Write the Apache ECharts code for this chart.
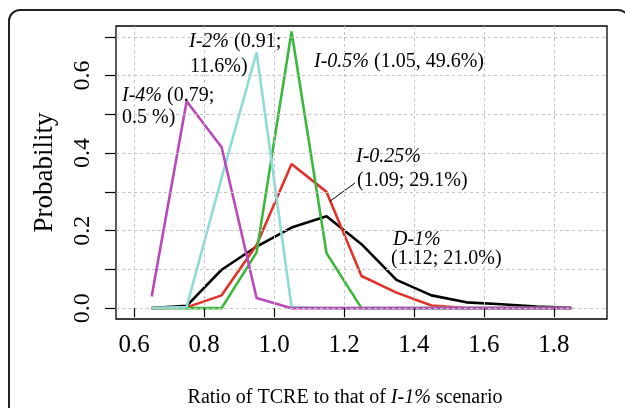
<!DOCTYPE html>
<html>
<head>
<meta charset="utf-8">
<script src="https://cdn.jsdelivr.net/npm/echarts@6/dist/echarts.min.js"></script>
<style>
html,body{margin:0;padding:0;background:#fff;}
#c{width:625px;height:408px;}
</style>
</head>
<body>
<div id="c"></div>
<script>
// ---- data ----
const ratios = [0.65, 0.75, 0.85, 0.95, 1.05, 1.15, 1.25, 1.35, 1.45, 1.55, 1.65, 1.75, 1.85];
const probD1   = [0.000, 0.006, 0.099, 0.159, 0.208, 0.237, 0.165, 0.073, 0.033, 0.015, 0.010, 0.004, 0.001];
const probI025 = [0.000, 0.002, 0.033, 0.163, 0.372, 0.300, 0.083, 0.040, 0.007, 0.000, 0.000, 0.000, 0.000];
const probI05  = [0.000, 0.000, 0.000, 0.144, 0.714, 0.142, 0.000, 0.000, 0.000, 0.000, 0.000, 0.000, 0.000];
const probI2   = [0.000, 0.003, 0.336, 0.660, 0.003, 0.000, 0.000, 0.000, 0.000, 0.000, 0.000, 0.000, 0.000];
const probI4   = [0.030, 0.534, 0.415, 0.026, 0.000, 0.000, 0.000, 0.000, 0.000, 0.000, 0.000, 0.000, 0.000];
const xTickLabels = [0.6, 0.8, 1.0, 1.2, 1.4, 1.6, 1.8];
const xGridValues = [0.6, 0.7, 0.8, 0.9, 1.0, 1.1, 1.2, 1.3, 1.4, 1.5, 1.6, 1.7, 1.8, 1.9];
const yTickValues = [0.0, 0.1, 0.2, 0.3, 0.4, 0.5, 0.6, 0.7];
const yTickLabels = [0.0, 0.2, 0.4, 0.6];
const leaderX = [1.160, 1.2315];
const leaderY = [0.276, 0.323];

const FONT = '"Liberation Serif","Times New Roman",serif';
const pair = (xs, ys) => xs.map((x, i) => [x, ys[i]]);

const chart = echarts.init(document.getElementById('c'), null, {renderer: 'canvas'});

function lineSeries(name, data, color) {
  return {
    name, type: 'line', data: pair(ratios, data), symbol: 'none', z: 2,
    lineStyle: {color, width: 2.6}, itemStyle: {color}, animation: false
  };
}

const rich = {
  i: {fontFamily: FONT, fontSize: 20, fontStyle: 'italic', fill: '#000', color: '#000'},
  n: {fontFamily: FONT, fontSize: 20, fill: '#000', color: '#000'}
};
function txt(x, y, text, align) {
  return {
    type: 'text', x, y, z: 10,
    style: {text, rich, fontFamily: FONT, fontSize: 20, fill: '#000', align: align || 'left', verticalAlign: 'middle'}
  };
}

const gridLine = {show: true, lineStyle: {color: '#c4c4c4', type: [3, 3], width: 1}};

chart.setOption({
  animation: false,
  backgroundColor: '#fff',
  grid: {left: 116, top: 26, right: 18, bottom: 89, show: true, borderColor: '#000', borderWidth: 1.3, backgroundColor: 'transparent'},
  xAxis: {
    type: 'value', min: 0.548, max: 1.952, z: 5,
    axisLine: {show: false},
    axisTick: {show: true, customValues: xTickLabels, length: 9, lineStyle: {color: '#000', width: 1.2}},
    axisLabel: {customValues: xTickLabels, formatter: v => v.toFixed(1), fontFamily: FONT, fontSize: 25, color: '#000', margin: 14},
    splitLine: Object.assign({customValues: xGridValues}, gridLine)
  },
  yAxis: {
    type: 'value', min: -0.028, max: 0.728, z: 5,
    name: 'Probability', nameLocation: 'middle', nameGap: 58, nameRotate: 90,
    nameTextStyle: {fontFamily: FONT, fontSize: 27, color: '#000'},
    axisLine: {show: false},
    axisTick: {show: true, customValues: yTickValues, length: 11, lineStyle: {color: '#000', width: 1.2}},
    axisLabel: {customValues: yTickLabels, rotate: 90, formatter: v => v.toFixed(1), fontFamily: FONT, fontSize: 24, color: '#000', margin: 21},
    splitLine: Object.assign({customValues: yTickValues}, gridLine)
  },
  series: [
    lineSeries('D-1%', probD1, '#000000'),
    lineSeries('I-0.25%', probI025, '#e2332a'),
    lineSeries('I-0.5%', probI05, '#3bb83b'),
    lineSeries('I-2%', probI2, '#8edcd6'),
    lineSeries('I-4%', probI4, '#b948b9'),
    {
      name: 'leader', type: 'line', data: pair(leaderX, leaderY), symbol: 'none', z: 3,
      lineStyle: {color: '#000', width: 1}, animation: false
    }
  ],
  graphic: [
    {type: 'rect', z: 0, silent: true, shape: {x: 9, y: 10, width: 620, height: 430, r: 11},
      style: {fill: 'none', stroke: '#222', lineWidth: 2}},
    txt(189, 42, '{i|I-2%}{n| (0.91;}'),
    txt(190, 67, '{n|11.6%)}'),
    txt(314, 62, '{i|I-0.5%}{n| (1.05, 49.6%)}'),
    txt(122, 96, '{i|I-4%}{n| (0.79;}'),
    txt(122, 118, '{n|0.5 %)}'),
    txt(356, 157, '{i|I-0.25%}'),
    txt(357, 181, '{n|(1.09; 29.1%)}'),
    txt(393, 240, '{i|D-1%}'),
    txt(391, 259, '{n|(1.12; 21.0%)}'),
    txt(345, 398, '{n|Ratio of TCRE to that of }{i|I-1%}{n| scenario}', 'center')
  ]
});
</script>
</body>
</html>
